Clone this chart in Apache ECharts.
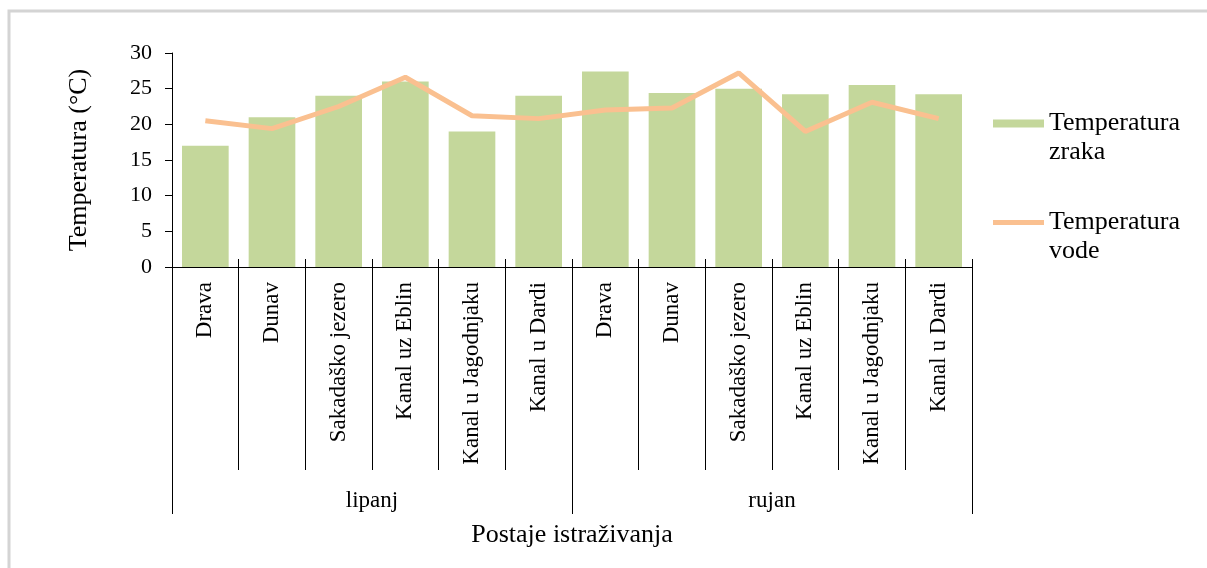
<!DOCTYPE html>
<html>
<head>
<meta charset="utf-8">
<title>Temperatura</title>
<script src="https://cdn.jsdelivr.net/npm/echarts@6/dist/echarts.min.js"></script>
<style>
  html, body { margin: 0; padding: 0; background: #fff; }
  #chart { width: 1207px; height: 568px; }
</style>
</head>
<body>
<div id="chart"></div>
<script>
// postaje (two months, same six stations)
const stations = ['Drava', 'Dunav', 'Sakadaško jezero', 'Kanal uz Eblin', 'Kanal u Jagodnjaku', 'Kanal u Dardi',
  'Drava', 'Dunav', 'Sakadaško jezero', 'Kanal uz Eblin', 'Kanal u Jagodnjaku', 'Kanal u Dardi'];
const months = ['lipanj', 'rujan'];
const airTemp = [17, 21, 24, 26, 19, 24, 27.4, 24.4, 25, 24.2, 25.5, 24.2];
const waterTemp = [20.5, 19.4, 22.5, 26.6, 21.2, 20.8, 22.0, 22.3, 27.2, 19.0, 23.1, 20.8];
const yTicks = { min: 0, max: 30, interval: 5 };

const font = 'Liberation Serif';

const chart = echarts.init(document.getElementById('chart'));

const option = {
  backgroundColor: '#fff',
  textStyle: { fontFamily: font, color: '#000' },
  animation: false,
  graphic: [{
    type: 'rect',
    shape: { x: 9, y: 11, width: 1400, height: 800 },
    style: { fill: 'none', stroke: '#d4d4d4', lineWidth: 3 }
  }],
  grid: { left: 172, right: 235, top: 53, bottom: 301 },
  legend: {
    orient: 'vertical',
    left: 988,
    top: 75,
    itemWidth: 51,
    itemHeight: 8,
    itemGap: 12,
    selectedMode: false,
    // empty first line so the icon sits next to the first text line
    formatter: name => ' \n' + name,
    textStyle: {
      fontFamily: font,
      fontSize: 26,
      color: '#000',
      lineHeight: 29
    },
    data: [
      { name: 'Temperatura\nzraka', icon: 'rect' },
      { name: 'Temperatura\nvode', icon: 'path://M0,0 L0,0 M0,1.5 L51,1.5 L51,6.5 L0,6.5 Z M51,8 L51,8' }
    ]
  },
  xAxis: [
    {
      type: 'category',
      data: stations,
      position: 'bottom',
      axisLine: { show: true, lineStyle: { color: '#000', width: 1 } },
      axisTick: { show: true, interval: 0, length: 203, lineStyle: { color: '#000' } },
      axisLabel: {
        interval: 0,
        rotate: 90,
        margin: 15,
        fontFamily: font,
        fontSize: 23,
        color: '#000'
      }
    },
    {
      // short cross ticks above the axis
      type: 'category',
      data: stations,
      position: 'bottom',
      axisLine: { show: false },
      axisTick: { show: true, interval: 0, inside: true, length: 8, lineStyle: { color: '#000' } },
      axisLabel: { show: false }
    },
    {
      // month grouping
      type: 'category',
      data: months,
      position: 'bottom',
      offset: 203,
      axisLine: { show: false },
      axisTick: { show: true, interval: 0, length: 44, lineStyle: { color: '#000' } },
      axisLabel: { interval: 0, margin: 19, fontFamily: font, fontSize: 23, color: '#000' },
      name: 'Postaje istraživanja',
      nameLocation: 'middle',
      nameGap: 52,
      nameTextStyle: { fontFamily: font, fontSize: 26, color: '#000' }
    }
  ],
  yAxis: {
    type: 'value',
    min: yTicks.min,
    max: yTicks.max,
    interval: yTicks.interval,
    name: 'Temperatura (°C)',
    nameLocation: 'middle',
    nameGap: 80,
    nameTextStyle: { fontFamily: font, fontSize: 26, color: '#000' },
    axisLine: { show: true, lineStyle: { color: '#000', width: 1 } },
    axisTick: { show: true, length: 7, lineStyle: { color: '#000' } },
    axisLabel: { margin: 20, fontFamily: font, fontSize: 22, color: '#000' },
    splitLine: { show: false }
  },
  series: [
    {
      name: 'Temperatura\nzraka',
      type: 'bar',
      data: airTemp,
      barCategoryGap: '30%',
      itemStyle: { color: '#c4d79b' }
    },
    {
      name: 'Temperatura\nvode',
      type: 'line',
      data: waterTemp,
      showSymbol: false,
      symbol: 'none',
      lineStyle: { color: '#fac090', width: 5 },
      itemStyle: { color: '#fac090' }
    }
  ]
};

chart.setOption(option);
</script>
</body>
</html>
